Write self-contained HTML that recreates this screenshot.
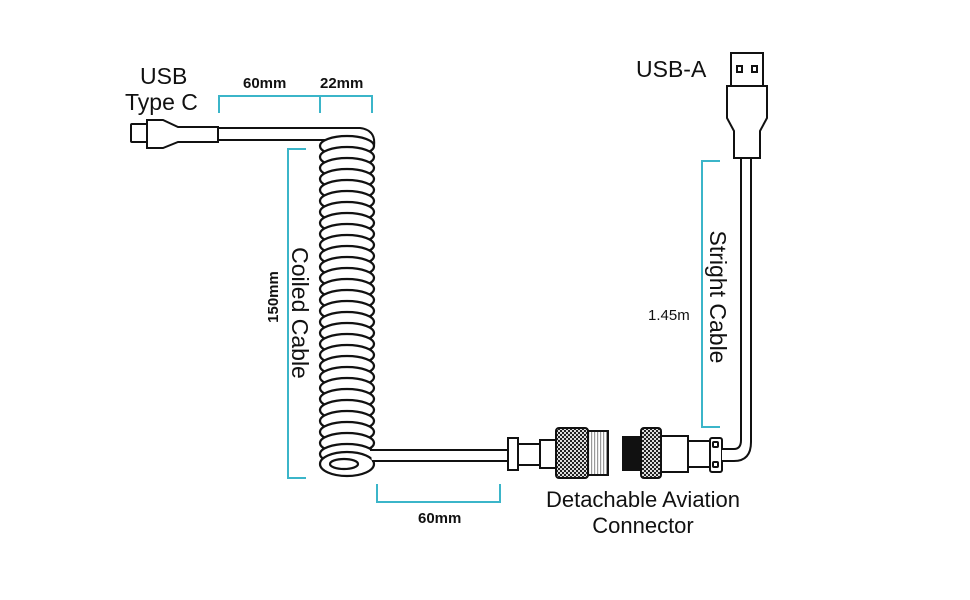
<!DOCTYPE html>
<html><head><meta charset="utf-8"><style>
html,body{margin:0;padding:0;background:#fff;}
svg{display:block;}
text{font-family:"Liberation Sans",sans-serif;fill:#111;}
</style></head><body>
<svg width="970" height="600" viewBox="0 0 970 600" xmlns="http://www.w3.org/2000/svg">
<defs>
<pattern id="kn" width="4" height="4" patternUnits="userSpaceOnUse">
<rect width="4" height="4" fill="#222"/><rect x="0" y="0" width="2" height="2" fill="#ddd"/><rect x="2" y="2" width="2" height="2" fill="#ddd"/>
</pattern>
<pattern id="th" width="3" height="4" patternUnits="userSpaceOnUse">
<rect width="3" height="4" fill="#fff"/><rect width="1.2" height="4" fill="#999"/>
</pattern>
</defs>
<g fill="none" stroke="#3bb5c9" stroke-width="2">
<path d="M219 113V96H372V113M320 96V113"/>
<path d="M306 149H288V478H306"/>
<path d="M377 484V502H500V484"/>
<path d="M720 161H702V427H720"/>
</g>
<g stroke="#111" stroke-width="2" fill="#fff">
<!-- USB C -->
<rect x="131" y="124" width="16" height="18" rx="1"/>
<path d="M147 120H163L178 127H218V142H178L163 148H147Z"/>
<path d="M218 128H360Q376 130 374 146" fill="none"/>
<path d="M218 140H360" fill="none"/>
</g>
<g stroke="#111" stroke-width="2.2" fill="#fff">
<ellipse cx="347" cy="146" rx="27" ry="10"/><ellipse cx="347" cy="157" rx="27" ry="10"/><ellipse cx="347" cy="168" rx="27" ry="10"/><ellipse cx="347" cy="179" rx="27" ry="10"/><ellipse cx="347" cy="190" rx="27" ry="10"/><ellipse cx="347" cy="201" rx="27" ry="10"/><ellipse cx="347" cy="212" rx="27" ry="10"/><ellipse cx="347" cy="223" rx="27" ry="10"/><ellipse cx="347" cy="234" rx="27" ry="10"/><ellipse cx="347" cy="245" rx="27" ry="10"/><ellipse cx="347" cy="256" rx="27" ry="10"/><ellipse cx="347" cy="267" rx="27" ry="10"/><ellipse cx="347" cy="278" rx="27" ry="10"/><ellipse cx="347" cy="289" rx="27" ry="10"/><ellipse cx="347" cy="300" rx="27" ry="10"/><ellipse cx="347" cy="311" rx="27" ry="10"/><ellipse cx="347" cy="322" rx="27" ry="10"/><ellipse cx="347" cy="333" rx="27" ry="10"/><ellipse cx="347" cy="344" rx="27" ry="10"/><ellipse cx="347" cy="355" rx="27" ry="10"/><ellipse cx="347" cy="366" rx="27" ry="10"/><ellipse cx="347" cy="377" rx="27" ry="10"/><ellipse cx="347" cy="388" rx="27" ry="10"/><ellipse cx="347" cy="399" rx="27" ry="10"/><ellipse cx="347" cy="410" rx="27" ry="10"/><ellipse cx="347" cy="421" rx="27" ry="10"/><ellipse cx="347" cy="432" rx="27" ry="10"/><ellipse cx="347" cy="443" rx="27" ry="10"/><ellipse cx="347" cy="454" rx="27" ry="10"/>
<ellipse cx="347" cy="464" rx="27" ry="12"/>
<ellipse cx="344" cy="464" rx="14" ry="5"/>
</g>
<g stroke="#111" stroke-width="2" fill="#fff">
<path d="M370 450H510V461H372" />
<!-- left connector -->
<rect x="508" y="438" width="10" height="32"/>
<rect x="518" y="444" width="22" height="21"/>
<rect x="540" y="440" width="16" height="28"/>
<rect x="556" y="428" width="32" height="50" rx="3" fill="url(#kn)"/>
<rect x="588" y="431" width="20" height="44" fill="url(#th)"/>
<!-- right connector -->
<rect x="623" y="437" width="18" height="33" fill="#111"/>
<rect x="641" y="428" width="20" height="50" rx="3" fill="url(#kn)"/>
<rect x="661" y="436" width="27" height="36"/>
<rect x="688" y="441" width="22" height="26"/>
<rect x="710" y="438" width="12" height="34" rx="2"/>
<rect x="713" y="442" width="5" height="5" rx="1"/><rect x="713" y="462" width="5" height="5" rx="1"/>
<path d="M722 449H734Q741 449 741 440V158H751V442Q751 461 734 461H722" />
<!-- USB A -->
<rect x="731" y="53" width="32" height="33"/>
<rect x="737" y="66" width="5" height="6"/><rect x="752" y="66" width="5" height="6"/>
<path d="M727 86H767V118L760 131V158H734V131L727 118Z"/>
</g>
<g stroke="#fff" stroke-width="1" fill="none"><path d="M511 441v4M511 463v4"/></g>
<text x="140" y="84" font-size="23">USB</text>
<text x="125" y="110" font-size="23">Type C</text>
<text x="243" y="88" font-size="15" font-weight="bold">60mm</text>
<text x="320" y="88" font-size="15" font-weight="bold">22mm</text>
<text x="418" y="523" font-size="15" font-weight="bold">60mm</text>
<text x="643" y="507" font-size="22" text-anchor="middle">Detachable Aviation</text>
<text x="643" y="533" font-size="22" text-anchor="middle">Connector</text>
<text x="636" y="77" font-size="23">USB-A</text>
<text x="648" y="320" font-size="15">1.45m</text>
<text transform="translate(292 313) rotate(90)" font-size="23" text-anchor="middle">Coiled Cable</text>
<text transform="translate(278 297) rotate(-90)" font-size="15" font-weight="bold" text-anchor="middle">150mm</text>
<text transform="translate(710 297) rotate(90)" font-size="23" text-anchor="middle">Stright Cable</text>
</svg>
</body></html>
